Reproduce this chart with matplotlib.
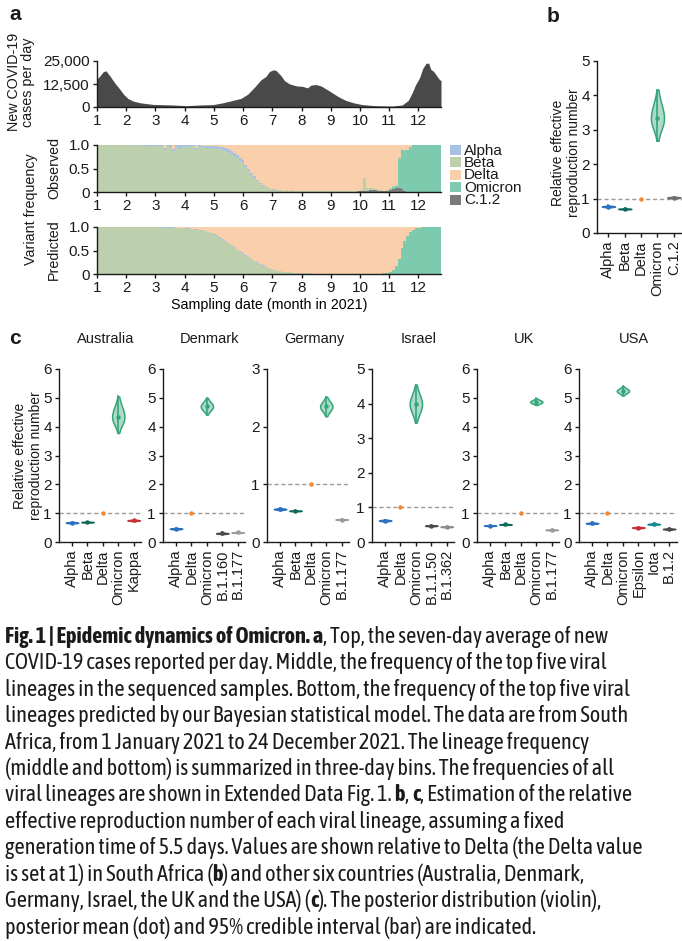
import numpy as np
import matplotlib
matplotlib.use("Agg")
import matplotlib.pyplot as plt
from matplotlib import font_manager
from matplotlib.patches import Rectangle
from matplotlib.transforms import blended_transform_factory

W, H = 682, 941

# --- a (top): seven-day average of new cases, South Africa 2021 ---
case_month = [1.0, 1.10, 1.22, 1.31, 1.44, 1.61, 1.78, 1.92, 2.07, 2.24, 2.47, 2.92,
              3.60, 4.06, 4.51, 4.97, 5.31, 5.65, 5.93, 6.16, 6.39, 6.61, 6.78, 6.90,
              7.03, 7.13, 7.30, 7.41, 7.58, 7.81, 8.03, 8.20, 8.32, 8.49, 8.66, 8.83,
              9.06, 9.28, 9.51, 9.80, 10.08, 10.53, 11.10, 11.44, 11.65, 11.78, 11.90,
              12.03, 12.15, 12.26, 12.35, 12.42, 12.52, 12.64, 12.72, 12.77]
case_count = [15300, 16900, 19300, 19600, 16900, 13000, 9700, 6700, 4500, 3200, 2300, 1400,
              1100, 700, 1100, 1300, 2300, 3600, 4700, 7000, 10800, 14800, 16600, 19300,
              20200, 19800, 16900, 14400, 12600, 11500, 11200, 10400, 11900, 12200, 11500, 9900,
              7600, 5400, 3600, 2200, 1300, 700, 500, 1100, 3600, 7600, 12100,
              15700, 21100, 23800, 23800, 20500, 19300, 16600, 14800, 14500]

# --- a (middle/bottom): lineage frequency in three-day bins, 1 Jan - 24 Dec ---
n_bins = 119
obs_beta = ([1.0, 1.0, 1.0, 0.99, 1.0, 1.0, 0.99, 1.0, 1.0, 0.99]
            + [1.0, 1.0, 0.99, 0.97, 0.98, 0.99, 0.97, 0.98, 0.96, 0.98]
            + [0.97, 0.98, 0.96, 0.90, 0.97, 0.95, 0.88, 0.95, 0.92, 0.95]
            + [0.96, 0.97, 0.95, 0.97, 0.90, 0.96, 0.95, 0.93, 0.92, 0.93]
            + [0.93, 0.92, 0.91, 0.89, 0.87, 0.85, 0.81, 0.77, 0.72, 0.67]
            + [0.62, 0.53, 0.45, 0.36, 0.29, 0.23, 0.17, 0.13, 0.09, 0.08]
            + [0.06, 0.05, 0.04, 0.035, 0.03, 0.03, 0.02, 0.025, 0.02, 0.02]
            + [0.015, 0.01, 0.015, 0.01, 0.01, 0.008, 0.01, 0.005, 0.005, 0.005]
            + [0.005, 0.005, 0.01, 0.005, 0.01, 0.005, 0.005, 0.01, 0.005, 0.01]
            + [0.01, 0.03, 0.26, 0.05, 0.03, 0.04, 0.02, 0.03, 0.02, 0.01]
            + [0.01, 0.02, 0.03, 0.02, 0.03, 0.02, 0.01, 0.005, 0.0, 0.0]
            + [0.0] * 9)
obs_alpha = ([0, 0, 0, 0.01, 0, 0, 0.01, 0, 0, 0.01]
             + [0, 0, 0.01, 0.03, 0.02, 0.01, 0.03, 0.02, 0.04, 0.02]
             + [0.03, 0.02, 0.04, 0.03, 0.03, 0.04, 0.03, 0.04, 0.07, 0.04]
             + [0.03, 0.03, 0.04, 0.02, 0.03, 0.04, 0.03, 0.05, 0.06, 0.05]
             + [0.05, 0.05, 0.05, 0.06, 0.06, 0.06, 0.06, 0.07, 0.07, 0.06]
             + [0.06, 0.05, 0.05, 0.04, 0.04, 0.03, 0.03, 0.02, 0.02, 0.01]
             + [0.01, 0.01, 0.005, 0.005] + [0.0] * 55)
obs_c12 = ([0.0] * 65 + [0.005, 0.01, 0.01, 0.01, 0.01] + [0.01] * 20
           + [0.02, 0.02, 0.03, 0.03, 0.05, 0.04, 0.04, 0.02, 0.02, 0.02]
           + [0.03, 0.05, 0.07, 0.08, 0.09, 0.06, 0.02, 0.01, 0.0, 0.0]
           + [0.0] * 9)
obs_omicron = ([0.0] * 101 + [0.01, 0.03, 0.05, 0.62, 0.84, 0.86, 0.88, 0.95, 0.99]
               + [1.0] * 9)

pred_beta = ([0.99] * 20
             + [0.99, 0.99, 0.985, 0.985, 0.98, 0.98, 0.98, 0.975, 0.975, 0.97]
             + [0.965, 0.96, 0.955, 0.95, 0.94, 0.93, 0.92, 0.91, 0.89, 0.87]
             + [0.84, 0.81, 0.77, 0.73, 0.69, 0.65, 0.61, 0.56, 0.51, 0.47]
             + [0.43, 0.39, 0.35, 0.31, 0.27, 0.24, 0.21, 0.18, 0.15, 0.13]
             + [0.11, 0.09, 0.07, 0.06, 0.05, 0.045, 0.04, 0.03, 0.025, 0.02]
             + [0.018, 0.015, 0.013, 0.011, 0.01, 0.008, 0.007, 0.006, 0.005, 0.005]
             + [0.004, 0.004, 0.003, 0.003, 0.002, 0.002, 0.002, 0.001, 0.001, 0.001]
             + [0.0] * 29)
pred_alpha = ([0.01] * 50
              + [0.009, 0.008, 0.008, 0.007, 0.006, 0.005, 0.005, 0.004, 0.004, 0.003]
              + [0.003, 0.002, 0.002, 0.002, 0.001, 0.001, 0.001] + [0.0] * 52)
pred_c12 = [0.0] * n_bins
pred_omicron = ([0.0] * 93 + [0.001, 0.001, 0.002] + [0.003, 0.005, 0.01, 0.015]
                + [0.03, 0.05, 0.09, 0.17, 0.32, 0.55, 0.70, 0.81, 0.89, 0.94]
                + [0.97, 0.985, 0.993, 0.997] + [1.0] * 5)

freq_names = ["Alpha", "Beta", "Delta", "Omicron", "C.1.2"]
freq_colors = {"Alpha": "#a8c2e6", "Beta": "#bdd0ae", "Delta": "#f9d0ab",
               "Omicron": "#7dcaae", "C.1.2": "#7a7a7a"}

# --- b: relative effective reproduction number, South Africa ---
sa_lineages = ["Alpha", "Beta", "Delta", "Omicron", "C.1.2"]
sa_mean = [0.77, 0.70, 1.0, 3.33, 1.03]
sa_lo = [0.74, 0.68, 1.0, 2.68, 1.00]
sa_hi = [0.80, 0.72, 1.0, 4.17, 1.06]

# --- c: other countries ---
countries = ["Australia", "Denmark", "Germany", "Israel", "UK", "USA"]
c_lineages = {
    "Australia": ["Alpha", "Beta", "Delta", "Omicron", "Kappa"],
    "Denmark": ["Alpha", "Delta", "Omicron", "B.1.160", "B.1.177"],
    "Germany": ["Alpha", "Beta", "Delta", "Omicron", "B.1.177"],
    "Israel": ["Alpha", "Delta", "Omicron", "B.1.1.50", "B.1.362"],
    "UK": ["Alpha", "Beta", "Delta", "Omicron", "B.1.177"],
    "USA": ["Alpha", "Delta", "Omicron", "Epsilon", "Iota", "B.1.2"],
}
c_mean = {
    "Australia": [0.67, 0.69, 1.0, 4.33, 0.75],
    "Denmark": [0.46, 1.0, 4.70, 0.30, 0.33],
    "Germany": [0.57, 0.54, 1.0, 2.35, 0.39],
    "Israel": [0.62, 1.0, 3.98, 0.47, 0.44],
    "UK": [0.57, 0.61, 1.0, 4.86, 0.42],
    "USA": [0.65, 1.0, 5.24, 0.50, 0.62, 0.45],
}
c_lo = {
    "Australia": [0.64, 0.67, 1.0, 3.78, 0.72],
    "Denmark": [0.43, 1.0, 4.42, 0.27, 0.31],
    "Germany": [0.55, 0.53, 1.0, 2.18, 0.38],
    "Israel": [0.59, 1.0, 3.45, 0.45, 0.42],
    "UK": [0.55, 0.59, 1.0, 4.75, 0.40],
    "USA": [0.62, 1.0, 5.08, 0.47, 0.59, 0.42],
}
c_hi = {
    "Australia": [0.70, 0.71, 1.0, 5.05, 0.78],
    "Denmark": [0.49, 1.0, 5.00, 0.33, 0.35],
    "Germany": [0.59, 0.55, 1.0, 2.52, 0.40],
    "Israel": [0.65, 1.0, 4.55, 0.49, 0.46],
    "UK": [0.59, 0.63, 1.0, 4.98, 0.44],
    "USA": [0.68, 1.0, 5.40, 0.53, 0.65, 0.48],
}
c_ymax = {"Australia": 6, "Denmark": 6, "Germany": 3, "Israel": 5, "UK": 6, "USA": 6}

lineage_colors = {
    "Alpha": "#2a6fc0", "Beta": "#0f6a5b", "Delta": "#f5862e", "Omicron": "#35a679",
    "Kappa": "#c8303b", "Epsilon": "#c8303b", "Iota": "#15878f",
    "B.1.160": "#4a4a4a", "B.1.177": "#9a9a9a", "B.1.1.50": "#4a4a4a",
    "B.1.362": "#8c8c8c", "B.1.2": "#4a4a4a", "C.1.2": "#6e6e6e",
}

caption_lines = [
    [("Fig. 1 | Epidemic dynamics of Omicron. a", True), (", Top, the seven-day average of new", False)],
    [("COVID-19 cases reported per day. Middle, the frequency of the top five viral", False)],
    [("lineages in the sequenced samples. Bottom, the frequency of the top five viral", False)],
    [("lineages predicted by our Bayesian statistical model. The data are from South", False)],
    [("Africa, from 1 January 2021 to 24 December 2021. The lineage frequency", False)],
    [("(middle and bottom) is summarized in three-day bins. The frequencies of all", False)],
    [("viral lineages are shown in Extended Data Fig. 1. ", False), ("b", True), (", ", False),
     ("c", True), (", Estimation of the relative", False)],
    [("effective reproduction number of each viral lineage, assuming a fixed", False)],
    [("generation time of 5.5 days. Values are shown relative to Delta (the Delta value", False)],
    [("is set at 1) in South Africa (", False), ("b", True),
     (") and other six countries (Australia, Denmark,", False)],
    [("Germany, Israel, the UK and the USA) (", False), ("c", True),
     ("). The posterior distribution (violin),", False)],
    [("posterior mean (dot) and 95% credible interval (bar) are indicated.", False)],
]

plt.rcParams['font.family'] = ['Liberation Sans', 'DejaVu Sans']
plt.rcParams['axes.linewidth'] = 1.0
plt.rcParams['axes.edgecolor'] = '#1a1a1a'
plt.rcParams['text.color'] = '#1a1a1a'
for k in ('xtick', 'ytick'):
    plt.rcParams[k + '.color'] = '#1a1a1a'
    plt.rcParams[k + '.major.width'] = 1.0
    plt.rcParams[k + '.major.size'] = 3.2
    plt.rcParams[k + '.major.pad'] = 2.0
    plt.rcParams[k + '.labelsize'] = 11

fig = plt.figure(figsize=(W / 100, H / 100), dpi=100)


def add_ax(left, top, right, bottom):
    ax = fig.add_axes([left / W, 1 - bottom / H, (right - left) / W, (bottom - top) / H])
    ax.spines[['top', 'right']].set_visible(False)
    return ax


def ftext(x, y, s, **kw):
    return fig.text(x / W, 1 - y / H, s, **kw)


# panel a, cases
ax = add_ax(97, 61, 441, 107)
ax.fill_between(case_month, case_count, color='#494949', lw=0)
ax.set_xlim(1, 12.77)
ax.set_ylim(0, 25000)
ax.set_xticks(range(1, 13))
ax.set_yticks([0, 12500, 25000], ['0', '12,500', '25,000'])
ftext(21, 82, 'New COVID-19\ncases per day', rotation=90, ha='center', va='center',
      fontsize=10.3, linespacing=0.95)
ftext(9, 14, 'a', fontsize=15, fontweight='bold', va='center')

bin_edges = np.linspace(1, 12.77, n_bins + 1)


def stack_panel(ax, c12, omicron, beta, alpha):
    layers = [np.asarray(c12, float), np.asarray(omicron, float),
              np.asarray(beta, float), np.asarray(alpha, float)]
    delta = np.clip(1 - sum(layers), 0, None)
    names = ["C.1.2", "Omicron", "Beta", "Alpha", "Delta"]
    base = np.zeros(n_bins)
    for name, vals in zip(names, layers + [delta]):
        top = base + vals
        ax.stairs(top, bin_edges, baseline=base, fill=True, color=freq_colors[name], lw=0)
        base = top
    ax.set_xlim(1, 12.77)
    ax.set_ylim(0, 1)
    ax.set_xticks(range(1, 13))
    ax.set_yticks([0, 0.5, 1.0], ['0', '0.5', '1.0'])


ax_obs = add_ax(97, 145, 441, 192)
stack_panel(ax_obs, obs_c12, obs_omicron, obs_beta, obs_alpha)
ax_pred = add_ax(97, 227, 441, 274)
stack_panel(ax_pred, pred_c12, pred_omicron, pred_beta, pred_alpha)
ax_pred.set_xlabel('Sampling date (month in 2021)', fontsize=10.3, labelpad=2)

ftext(31, 209, 'Variant frequency', rotation=90, ha='center', va='center', fontsize=10.3)
ftext(54, 168, 'Observed', rotation=90, ha='center', va='center', fontsize=10.3)
ftext(54, 250, 'Predicted', rotation=90, ha='center', va='center', fontsize=10.3)

for k, name in enumerate(freq_names):
    yc = 150 + 12.4 * k
    fig.patches.append(Rectangle((450 / W, 1 - (yc + 5) / H), 11 / W, 10 / H,
                                 transform=fig.transFigure, color=freq_colors[name], lw=0))
    ftext(464, yc + 0.5, name, fontsize=11, va='center')


def violin(ax, x, mean, lo, hi, col, wide):
    if hi > lo:
        y = np.linspace(lo, hi, 121)
        s = np.where(y > mean, (hi - mean) / 1.96, (mean - lo) / 1.96)
        w = 0.4 * np.exp(-0.5 * ((y - mean) / s) ** 2)
        face = matplotlib.colors.to_rgba(col, 0.4) if wide else col
        ax.fill_betweenx(y, x - w, x + w, facecolor=face, edgecolor=col, lw=1.1, zorder=2)
        ax.plot([x, x], [lo, hi], color=col, lw=1.2, zorder=3)
    ax.plot(x, mean, 'o', ms=3.2, color=col, mec='none', zorder=4)


def reff_panel(ax, names, mean, lo, hi, ymax, xleft):
    ax.axhline(1, color='#9a9a9a', lw=1, ls=(0, (3, 2)), zorder=1)
    for i, name in enumerate(names):
        violin(ax, i, mean[i], lo[i], hi[i], lineage_colors[name], name == "Omicron")
    ax.set_xlim(xleft, len(names) - 0.5)
    ax.set_ylim(0, ymax)
    ax.set_yticks(range(0, ymax + 1))
    ax.set_xticks(range(len(names)))
    ax.set_xticklabels(names, rotation=90, fontsize=10.5)


# panel b
ax_b = add_ax(597, 61, 682, 233)
reff_panel(ax_b, sa_lineages, sa_mean, sa_lo, sa_hi, 5, -0.7)
ftext(566, 153, 'Relative effective\nreproduction number', rotation=90, ha='center',
      va='center', fontsize=10, linespacing=1.15)
ftext(547, 17, 'b', fontsize=15, fontweight='bold', va='center')

# panel c
c_left = [59, 163, 267, 372, 477, 579]
cat_px = 15.4
for country, left in zip(countries, c_left):
    names = c_lineages[country]
    width = (len(names) - 0.5 + 0.85) * cat_px
    axc = add_ax(left, 369, left + width, 542)
    reff_panel(axc, names, c_mean[country], c_lo[country], c_hi[country],
               c_ymax[country], -0.85)
    tr = blended_transform_factory(axc.transData, axc.transAxes)
    axc.text((len(names) - 1) / 2 + 0.2, 1 + 30 / 173, country, transform=tr,
             ha='center', va='center', fontsize=10.5)
ftext(28, 456, 'Relative effective\nreproduction number', rotation=90, ha='center',
      va='center', fontsize=10, linespacing=1.15)
ftext(9, 338, 'c', fontsize=15, fontweight='bold', va='center')


# caption: a narrow sans face that has both a regular and a bold weight
def _weight(w):
    return w if isinstance(w, (int, float)) else font_manager.weight_dict.get(w, 400)


faces = {}
for f in font_manager.fontManager.ttflist:
    if ('Narrow' in f.name or 'Condensed' in f.name) and 'Mono' not in f.name and f.style == 'normal':
        faces.setdefault(f.name, set()).add(_weight(f.weight))
cap_regular = {'family': 'Liberation Sans'}
cap_bold = {'family': 'Liberation Sans'}
for name, weights in sorted(faces.items()):
    if any(350 <= w <= 450 for w in weights) and any(w >= 600 for w in weights):
        cap_regular = {'family': name}
        cap_bold = {'family': name}
        break
else:
    for name, weights in sorted(faces.items()):
        if any(350 <= w <= 450 for w in weights):
            cap_regular = {'family': name}
            break

renderer = fig.canvas.get_renderer()


def cap_props(bold):
    return dict(cap_bold if bold else cap_regular, fontweight='bold' if bold else 'normal')


def text_width(s, size, bold=False):
    t = fig.text(0, 0, s, fontsize=size, **cap_props(bold))
    w = t.get_window_extent(renderer).width
    t.remove()
    return w


space_w10 = text_width('n n', 10) - text_width('nn', 10)
widest = 0.0
for parts in caption_lines:
    line_w = 0.0
    for s, bold in parts:
        line_w += text_width(s.strip(' '), 10, bold)
        line_w += (len(s) - len(s.strip(' '))) * space_w10
    widest = max(widest, line_w)
cap_size = min(16.0, 10 * 668 / widest)
space_w = space_w10 * cap_size / 10

for k, parts in enumerate(caption_lines):
    y = 637 + 26.4 * k
    x = 5.0
    for s, bold in parts:
        lead = len(s) - len(s.lstrip(' '))
        trail = len(s) - len(s.rstrip(' '))
        x += lead * space_w
        t = ftext(x, y, s.strip(' '), fontsize=cap_size, va='center', ha='left',
                  **cap_props(bold))
        x = t.get_window_extent(renderer).x1 + trail * space_w

fig.savefig('out.png', dpi=100)
